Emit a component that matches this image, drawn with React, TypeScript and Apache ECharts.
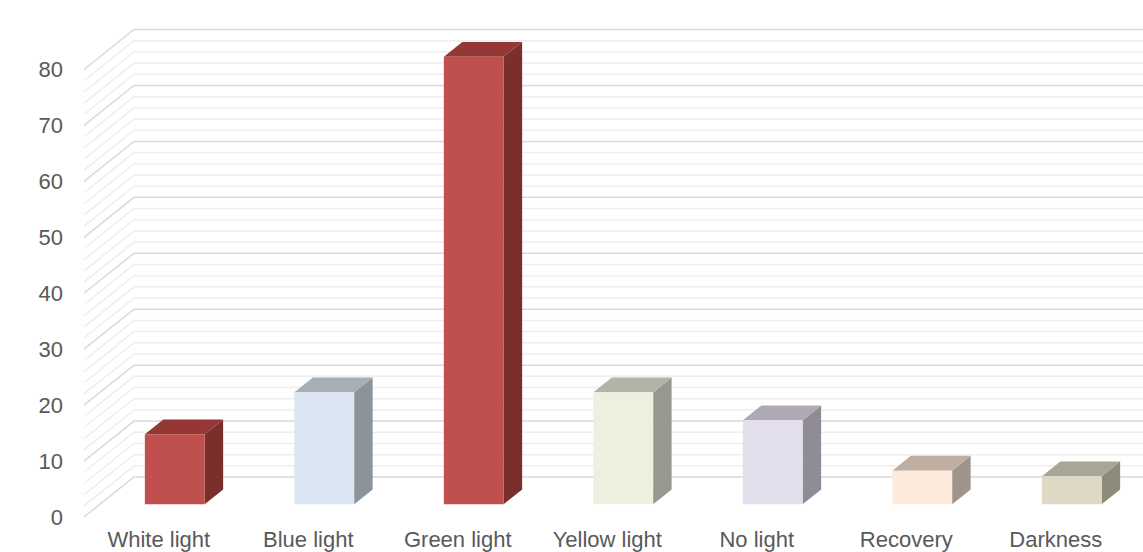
import React, { useEffect, useRef } from "react";
import * as echarts from "echarts";

const categories = ["White light", "Blue light", "Green light", "Yellow light", "No light", "Recovery", "Darkness"];
const values = [12.5, 20, 80, 20, 15, 6, 5];
const frontColors = ["#C0504D", "#DCE6F2", "#C0504D", "#EBF1DE", "#E4DFEC", "#FDEADA", "#DDD9C4"];
const topColors = ["#953735", "#A6AEB6", "#953735", "#B1B5A7", "#AEA9B3", "#BFAFA3", "#A8A694"];
const sideColors = ["#7B2F2D", "#8C939A", "#7B2F2D", "#969A8E", "#908C96", "#A0948A", "#8D8C7B"];
const yTickLabels = [0, 10, 20, 30, 40, 50, 60, 70, 80];
const gridTicks = [0, 2, 4, 6, 8, 10, 12, 14, 16, 18, 20, 22, 24, 26, 28, 30, 32, 34, 36, 38, 40, 42, 44, 46, 48, 50, 52, 54, 56, 58, 60, 62, 64, 66, 68, 70, 72, 74, 76, 78, 80];

// oblique projection: offset from the back wall to the front plane
const DX = -50;
const DY = 40;
const FRONT_DEPTH = 0.68; // bar front face (fraction of full depth from back)
const BACK_DEPTH = 0.31; // bar back face

export default function App() {
  const ref = useRef<HTMLDivElement>(null);
  useEffect(() => {
    if (!ref.current) return;
    const chart = echarts.init(ref.current, null, { renderer: "svg" });
    const font = "'Liberation Sans', Arial, sans-serif";
    const option: any = {
      animation: false,
      backgroundColor: "#ffffff",
      grid: [
        { left: 134, width: 1046.5, top: 29.5, height: 447.5, outerBoundsMode: "none", containLabel: false },
        { left: 84, width: 1046.5, top: 69.5, height: 447.5, outerBoundsMode: "none", containLabel: false },
      ],
      xAxis: [
        { type: "category", gridIndex: 0, data: categories, show: false },
        {
          type: "category",
          gridIndex: 1,
          data: categories,
          axisLine: { show: false },
          axisTick: { show: false },
          axisLabel: { color: "#595959", fontSize: 22, fontFamily: font, margin: 11, interval: 0 },
        },
      ],
      yAxis: [
        { type: "value", gridIndex: 0, min: 0, max: 80, interval: 2, show: false },
        {
          type: "value",
          gridIndex: 1,
          min: yTickLabels[0],
          max: yTickLabels[yTickLabels.length - 1],
          interval: yTickLabels[1] - yTickLabels[0],
          axisLine: { show: false },
          axisTick: { show: false },
          splitLine: { show: false },
          axisLabel: { color: "#595959", fontSize: 22, fontFamily: font, margin: 21 },
        },
      ],
      series: [
        {
          type: "custom",
          xAxisIndex: 0,
          yAxisIndex: 0,
          clip: false,
          z: 1,
          silent: true,
          data: gridTicks.map((v) => [0, v]),
          encode: { x: 0, y: 1 },
          renderItem: (params: any, api: any) => {
            const v = api.value(1);
            const y = api.coord([0, v])[1];
            const cs = params.coordSys;
            const major = v % 10 === 0;
            return {
              type: "polyline",
              shape: { points: [[cs.x + DX, y + DY], [cs.x, y], [cs.x + cs.width, y]] },
              style: { stroke: major ? "#D9D9D9" : "#EEEEEE", lineWidth: 1.5, fill: null },
            };
          },
        },
        {
          type: "custom",
          xAxisIndex: 0,
          yAxisIndex: 0,
          clip: false,
          z: 2,
          data: values.map((v, i) => [i, v]),
          encode: { x: 0, y: 1 },
          renderItem: (params: any, api: any) => {
            const idx = api.value(0);
            const v = api.value(1);
            const base = api.coord([idx, 0]);
            const top = api.coord([idx, v]);
            const bw = api.size([1, 0])[0] * 0.4;
            const fx = DX * FRONT_DEPTH, fy = DY * FRONT_DEPTH;
            const bx = DX * BACK_DEPTH, by = DY * BACK_DEPTH;
            const xl = base[0] - bw / 2 + fx;
            const xr = base[0] + bw / 2 + fx;
            const yt = top[1] + fy;
            const yb = base[1] + fy;
            const xlb = base[0] - bw / 2 + bx;
            const xrb = base[0] + bw / 2 + bx;
            const ytb = top[1] + by;
            const ybb = base[1] + by;
            return {
              type: "group",
              children: [
                {
                  type: "polygon",
                  shape: { points: [[xr, yt], [xrb, ytb], [xrb, ybb], [xr, yb]] },
                  style: { fill: sideColors[idx], stroke: null },
                },
                {
                  type: "polygon",
                  shape: { points: [[xl, yt], [xr, yt], [xrb, ytb], [xlb, ytb]] },
                  style: { fill: topColors[idx], stroke: null },
                },
                {
                  type: "rect",
                  shape: { x: xl, y: yt, width: xr - xl, height: yb - yt },
                  style: { fill: frontColors[idx], stroke: null },
                },
              ],
            };
          },
        },
      ],
    };
    chart.setOption(option);
    return () => chart.dispose();
  }, []);
  return (
    <div
      ref={ref}
      style={{ position: "fixed", left: 0, top: 0, width: 1143, height: 552, background: "#fff" }}
    />
  );
}
